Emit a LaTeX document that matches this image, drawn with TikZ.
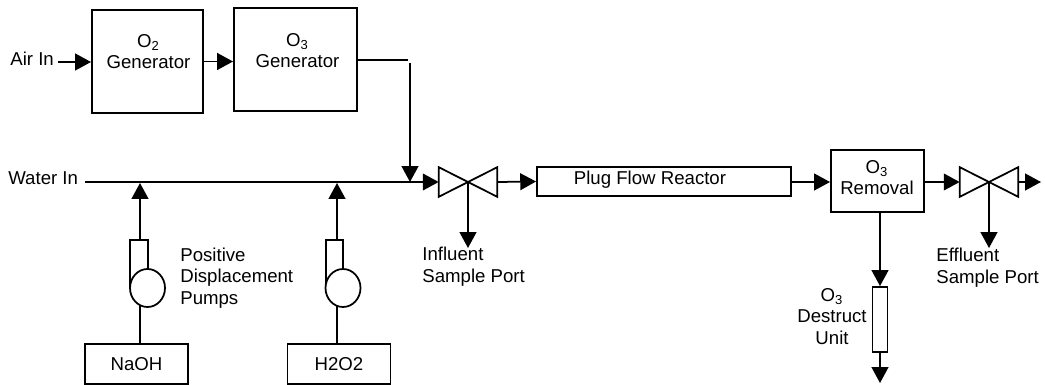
\documentclass[tikz,border=0pt]{standalone}
\usepackage{fontspec}
\setmainfont{Liberation Sans}
\usetikzlibrary{arrows.meta}
\usetikzlibrary{shapes.geometric}

\tikzset{
  flow/.style={line width=1pt, -{Triangle[length=9pt,width=9.5pt]}},
  pipe/.style={line width=1pt},
  unit/.style={draw, line width=1.1pt, inner sep=0pt, fill=white},
  valve/.style={inner sep=0pt, minimum width=1.16cm, minimum height=.58cm},
  pumpbody/.style={draw, line width=1pt, ellipse, inner sep=0pt, fill=white, minimum width=.7cm, minimum height=.76cm},
  txt/.style={inner sep=0pt, align=center, font=\fontsize{10.6}{12.2}\selectfont},
  txtl/.style={txt, align=left, anchor=west}
}

\begin{document}
\begin{tikzpicture} [x=.02cm,y=-.02cm]
\useasboundingbox (0,0) rectangle (1045,385);

% generators
\node[unit, minimum width=2.22cm, minimum height=2.06cm] (otwo) at (147.5,61.5) {};
\node[unit, minimum width=2.46cm, minimum height=2.06cm] (othree) at (295.5,59.5) {};
\node[txt] at (148.5,51.5) {O\textsubscript{2}\\Generator};
\node[txt] at (297.5,50.5) {O\textsubscript{3}\\Generator};

\node[txtl] (airin) at (10,59) {Air In};
\node[txtl] (waterin) at (8,178) {Water In};

\coordinate (airstart) at (58,62);
\coordinate (waterstart) at (85,182);
\coordinate (ozonebend) at (408,60);
\coordinate (ozonedrop) at (410,63);
\coordinate (ozonemix) at (410,182);

\draw[flow] (airstart) -- (otwo.west |- airstart);
\draw[flow] (otwo.east) -- (othree.west |- otwo.east);
\draw[pipe] (othree.east |- ozonebend) -- (ozonebend);
\draw[flow] (ozonedrop) -- (ozonemix);

% main line
\node[valve] (influent) at (468,182) {};
\node[valve] (effluent) at (989,182) {};
\foreach \v in {influent, effluent}
\draw[pipe, line join=miter] (\v.north west) -- (\v.south east) -- (\v.north east) -- (\v.south west) -- cycle;

\node[unit, minimum width=5.08cm, minimum height=.58cm] (reactor) at (664,181.5) {};
\node[txt] at (650,180) {Plug Flow Reactor};
\node[unit, minimum width=1.86cm, minimum height=1.24cm] (removal) at (877.5,181) {};
\node[txt] at (877,177.5) {O\textsubscript{3}\\Removal};
\node[unit, minimum width=.3cm, minimum height=1.3cm] (destruct) at (880,319.5) {};
\node[txt] at (832,316.5) {O\textsubscript{3}\\Destruct\\Unit};

\coordinate (influentport) at (468,248);
\coordinate (effluentport) at (989,248);
\coordinate (outstart) at (1019,182);
\coordinate (outend) at (1041,182);
\coordinate (ventend) at (880,383);

\draw[flow] (waterstart) -- (influent.west);
\draw[flow] (influent.east) -- (reactor.west);
\draw[flow] (reactor.east |- influent.east) -- (removal.west |- influent.east);
\draw[flow] (removal.east |- influent.east) -- (effluent.west);
\draw[flow] (outstart) -- (outend);
\draw[flow] (influent.center) -- (influentport);
\draw[flow] (effluent.center) -- (effluentport);
\draw[flow] (destruct.north |- removal.south) -- (destruct.north);
\draw[flow] (destruct.south) -- (ventend);

\node[txtl] at (422,266.5) {Influent\\Sample Port};
\node[txtl] at (936,267.5) {Effluent\\Sample Port};

% pumps
\foreach \tank/\x/\chem in {naoh/136.5/NaOH, peroxide/339/H2O2}
\node[unit, minimum width=2.06cm, minimum height=.8cm] (\tank) at (\x,364) {\fontsize{10.6}{12.2}\selectfont\chem};

\foreach \tank/\x/\lx in {naoh/139/140, peroxide/334.5/337} {
\node[unit, anchor=north, minimum width=.35cm, minimum height=.92cm] (stub\tank) at (\x,239) {};
\coordinate (join\tank) at (\lx,183);
\draw[flow] (join\tank |- stub\tank.north) -- (join\tank);
\draw[pipe] (join\tank |- stub\tank.south) -- (join\tank |- \tank.north);
\node[pumpbody] (pump\tank) at (\x+8.5,288) {};
}

\node[txtl] at (180,278) {Positive\\Displacement\\Pumps};

\end{tikzpicture}
\end{document}
